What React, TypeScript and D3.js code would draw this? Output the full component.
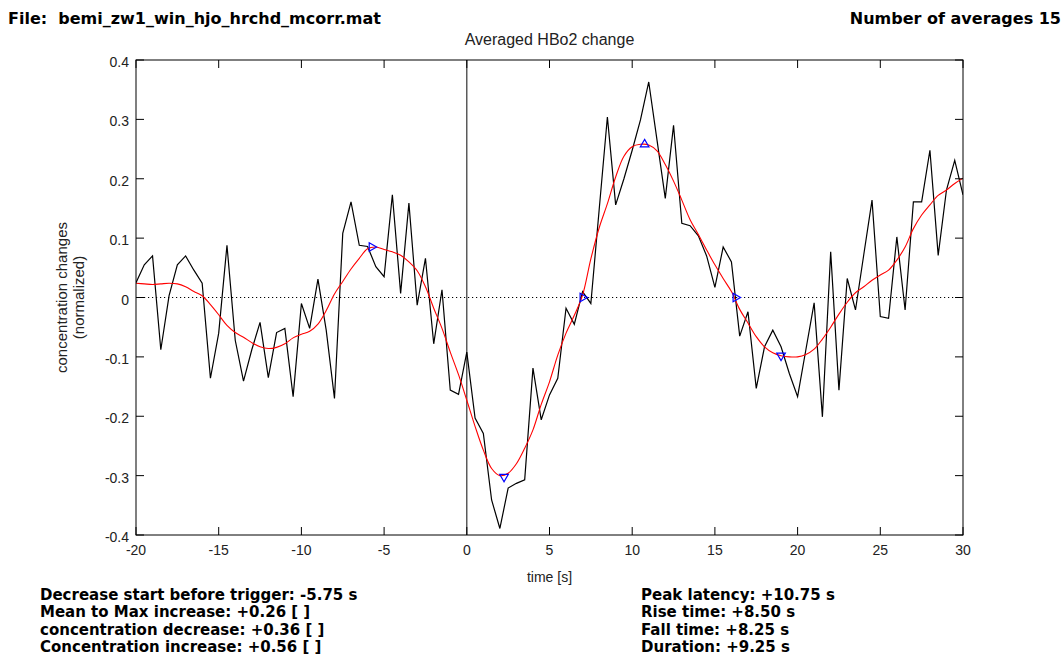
import React from "react";
import * as d3 from "d3";

// Sampling grid (s) shared by the raw average and its smoothed version
const timeGrid = [
  -20, -19.5, -19, -18.5, -18, -17.5, -17, -16.5, -16, -15.5,
  -15, -14.5, -14, -13.5, -13, -12.5, -12, -11.5, -11, -10.5,
  -10, -9.5, -9, -8.5, -8, -7.5, -7, -6.5, -6, -5.5,
  -5, -4.5, -4, -3.5, -3, -2.5, -2, -1.5, -1, -0.5,
  0, 0.5, 1, 1.5, 2, 2.5, 3, 3.5, 4, 4.5,
  5, 5.5, 6, 6.5, 7, 7.5, 8, 8.5, 9, 9.5,
  10, 10.5, 11, 11.5, 12, 12.5, 13, 13.5, 14, 14.5,
  15, 15.5, 16, 16.5, 17, 17.5, 18, 18.5, 19, 19.5,
  20, 20.5, 21, 21.5, 22, 22.5, 23, 23.5, 24, 24.5,
  25, 25.5, 26, 26.5, 27, 27.5, 28, 28.5, 29, 29.5,
  30,
];

// Averaged HbO2 concentration change (normalized)
const rawChange = [
  0.025, 0.055, 0.07, -0.088, 0.003, 0.055, 0.07, 0.046, 0.024, -0.136,
  -0.06, 0.088, -0.072, -0.141, -0.088, -0.042, -0.135, -0.059, -0.052, -0.167,
  -0.01, -0.052, 0.031, -0.055, -0.17, 0.108, 0.161, 0.088, 0.086, 0.052,
  0.035, 0.173, 0.007, 0.159, -0.013, 0.066, -0.078, 0.013, -0.156, -0.163,
  -0.092, -0.203, -0.229, -0.341, -0.389, -0.321, -0.313, -0.307, -0.119, -0.206,
  -0.164, -0.136, -0.018, -0.045, 0.01, -0.01, 0.147, 0.304, 0.156, 0.2,
  0.248, 0.299, 0.363, 0.265, 0.167, 0.29, 0.125, 0.121, 0.104, 0.07,
  0.017, 0.085, 0.06, -0.065, -0.024, -0.153, -0.083, -0.055, -0.083, -0.128,
  -0.167, -0.088, -0.009, -0.201, 0.077, -0.156, 0.032, -0.021, 0.072, 0.164,
  -0.032, -0.035, 0.102, -0.021, 0.161, 0.161, 0.248, 0.071, 0.181, 0.231,
  0.173,
];

// Low-pass filtered curve
const smoothChange = [
  0.024, 0.023, 0.022, 0.023, 0.024, 0.023, 0.018, 0.01, 0.003, -0.012,
  -0.029, -0.047, -0.059, -0.067, -0.076, -0.083, -0.086, -0.084, -0.078, -0.068,
  -0.062, -0.057, -0.045, -0.022, 0.006, 0.027, 0.048, 0.066, 0.082, 0.085,
  0.081, 0.077, 0.071, 0.06, 0.045, 0.018, -0.018, -0.052, -0.092, -0.13,
  -0.173, -0.217, -0.257, -0.288, -0.3, -0.296, -0.28, -0.254, -0.223, -0.18,
  -0.142, -0.097, -0.06, -0.03, 0.004, 0.065, 0.117, 0.158, 0.203, 0.238,
  0.254, 0.258, 0.257, 0.247, 0.224, 0.196, 0.164, 0.131, 0.106, 0.08,
  0.055, 0.032, 0.01, -0.02, -0.043, -0.066, -0.083, -0.093, -0.098, -0.1,
  -0.1, -0.096, -0.087, -0.07, -0.05, -0.028, -0.008, 0.008, 0.018, 0.029,
  0.038, 0.046, 0.063, 0.085, 0.116, 0.139, 0.156, 0.172, 0.181, 0.192,
  0.201,
];

// Detected events on the smoothed curve
const eventTimes = [-5.75, 2.25, 7.0, 10.75, 16.25, 19.0];
const eventValues = [0.085, -0.302, 0.0, 0.258, 0.0, -0.098];
const eventRotation = [90, 180, 90, 0, 90, 180];

const xTicks = [-20, -15, -10, -5, 0, 5, 10, 15, 20, 25, 30];
const xTickLabels = ["-20", "-15", "-10", "-5", "0", "5", "10", "15", "20", "25", "30"];
const yTicks = [0.4, 0.3, 0.2, 0.1, 0, -0.1, -0.2, -0.3, -0.4];
const yTickLabels = ["0.4", "0.3", "0.2", "0.1", "0", "-0.1", "-0.2", "-0.3", "-0.4"];

const leftSummary = [
  "Decrease start before trigger: -5.75 s",
  "Mean to Max increase: +0.26 [ ]",
  "concentration decrease: +0.36 [ ]",
  "Concentration increase: +0.56 [ ]",
];
const rightSummary = [
  "Peak latency: +10.75 s",
  "Rise time: +8.50 s",
  "Fall time: +8.25 s",
  "Duration: +9.25 s",
];

const W = 1062;
const H = 662;
const plot = { left: 136, right: 963, top: 60, bottom: 535 };
const axisFont = "'Liberation Sans', Arial, Helvetica, sans-serif";
const boldFont = "'DejaVu Sans', Verdana, sans-serif";

export default function App() {
  const x = d3.scaleLinear().domain([-20, 30]).range([plot.left, plot.right]);
  const y = d3.scaleLinear().domain([-0.4, 0.4]).range([plot.bottom, plot.top]);

  const rawLine = d3
    .line<number>()
    .x((_, i) => x(timeGrid[i]))
    .y((d) => y(d))(rawChange) as string;

  const smoothLine = d3
    .line<number>()
    .x((_, i) => x(timeGrid[i]))
    .y((d) => y(d))
    .curve(d3.curveCatmullRom)(smoothChange) as string;

  const tri = d3.symbol().type(d3.symbolTriangle).size(32)() as string;
  const tickLen = 8;

  return (
    <svg
      width={W}
      height={H}
      style={{ position: "absolute", left: 0, top: 0, background: "#fff" }}
    >
      <defs>
        <clipPath id="plotClip">
          <rect
            x={plot.left}
            y={plot.top}
            width={plot.right - plot.left}
            height={plot.bottom - plot.top}
          />
        </clipPath>
      </defs>
      <rect width={W} height={H} fill="#fff" />

      {/* header */}
      <text
        x={8}
        y={24}
        fontFamily={boldFont}
        fontWeight="bold"
        fontSize={16}
        fill="#000"
        style={{ whiteSpace: "pre" }}
      >
        {"File:  bemi_zw1_win_hjo_hrchd_mcorr.mat"}
      </text>
      <text
        x={1061}
        y={24}
        textAnchor="end"
        fontFamily={boldFont}
        fontWeight="bold"
        fontSize={16}
        fill="#000"
      >
        Number of averages 15
      </text>
      <text
        x={(plot.left + plot.right) / 2}
        y={45}
        textAnchor="middle"
        fontFamily={axisFont}
        fontSize={16}
        fill="#222"
      >
        Averaged HBo2 change
      </text>

      {/* reference lines */}
      <line
        x1={plot.left}
        x2={plot.right}
        y1={y(0)}
        y2={y(0)}
        stroke="#000"
        strokeWidth={1}
        strokeDasharray="1.2,2.8"
      />
      <line x1={x(0)} x2={x(0)} y1={plot.top} y2={plot.bottom} stroke="#333" strokeWidth={1.2} />

      {/* data */}
      <g clipPath="url(#plotClip)">
        <path d={rawLine} fill="none" stroke="#000" strokeWidth={1.2} strokeLinejoin="miter" />
        <path d={smoothLine} fill="none" stroke="#ff0000" strokeWidth={1.1} />
      </g>
      {eventTimes.map((t, i) => (
        <path
          key={"ev" + i}
          d={tri}
          transform={`translate(${x(t)},${y(eventValues[i])}) rotate(${eventRotation[i]})`}
          fill="none"
          stroke="#0000ff"
          strokeWidth={1.2}
        />
      ))}

      {/* axes box and ticks */}
      <rect
        x={plot.left}
        y={plot.top}
        width={plot.right - plot.left}
        height={plot.bottom - plot.top}
        fill="none"
        stroke="#000"
        strokeWidth={1}
      />
      {xTicks.map((t, i) => (
        <g key={"xt" + i}>
          <line x1={x(t)} x2={x(t)} y1={plot.bottom} y2={plot.bottom - tickLen} stroke="#000" />
          <line x1={x(t)} x2={x(t)} y1={plot.top} y2={plot.top + tickLen} stroke="#000" />
          <text
            x={x(t)}
            y={plot.bottom + 20}
            textAnchor="middle"
            fontFamily={axisFont}
            fontSize={14}
            fill="#222"
          >
            {xTickLabels[i]}
          </text>
        </g>
      ))}
      {yTicks.map((v, i) => (
        <g key={"yt" + i}>
          <line x1={plot.left} x2={plot.left + tickLen} y1={y(v)} y2={y(v)} stroke="#000" />
          <line x1={plot.right} x2={plot.right - tickLen} y1={y(v)} y2={y(v)} stroke="#000" />
          <text
            x={plot.left - 7}
            y={y(v) + 7}
            textAnchor="end"
            fontFamily={axisFont}
            fontSize={14}
            fill="#222"
          >
            {yTickLabels[i]}
          </text>
        </g>
      ))}

      {/* axis labels */}
      <text
        x={(plot.left + plot.right) / 2}
        y={582}
        textAnchor="middle"
        fontFamily={axisFont}
        fontSize={14}
        fill="#222"
      >
        time [s]
      </text>
      <g transform={`translate(67,${(plot.top + plot.bottom) / 2}) rotate(-90)`}>
        <text x={0} y={0} textAnchor="middle" fontFamily={axisFont} fontSize={15} fill="#222">
          concentration changes
        </text>
        <text x={0} y={17} textAnchor="middle" fontFamily={axisFont} fontSize={15} fill="#222">
          (normalized)
        </text>
      </g>

      {/* summary */}
      {leftSummary.map((s, i) => (
        <text
          key={"ls" + i}
          x={40}
          y={600 + i * 17.3}
          fontFamily={boldFont}
          fontWeight="bold"
          fontSize={15}
          fill="#000"
        >
          {s}
        </text>
      ))}
      {rightSummary.map((s, i) => (
        <text
          key={"rs" + i}
          x={641}
          y={600 + i * 17.3}
          fontFamily={boldFont}
          fontWeight="bold"
          fontSize={15}
          fill="#000"
        >
          {s}
        </text>
      ))}
    </svg>
  );
}
